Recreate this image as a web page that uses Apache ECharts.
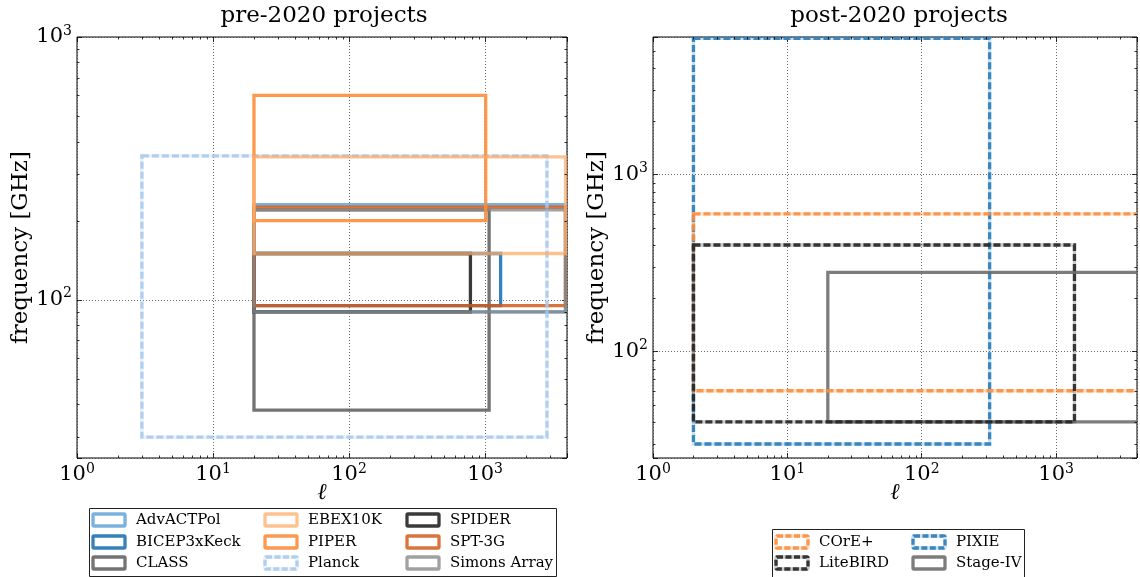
<!DOCTYPE html>
<html><head><meta charset="utf-8">
<script src="https://cdn.jsdelivr.net/npm/echarts@6/dist/echarts.min.js"></script>
<style>html,body{margin:0;padding:0;background:#fff}#c{width:1140px;height:577px}</style>
</head><body><div id="c"></div>
<script>
// ---------------- data ----------------
// pre-2020 projects: multipole range (ell) and frequency range (GHz)
const preNames    = ['AdvACTPol','BICEP3xKeck','CLASS','EBEX10K','PIPER','Planck','SPIDER','SPT-3G','Simons Array'];
const preEllMin   = [20, 20, 20, 20, 20, 3, 20, 20, 20];
const preEllMax   = [3900, 1300, 1070, 3900, 1010, 2850, 780, 3900, 3900];
const preFreqMin  = [90, 95, 38, 150, 200, 30, 90, 95, 90];
const preFreqMax  = [230, 150, 220, 350, 600, 353, 150, 225, 220];
// post-2020 projects
const postNames   = ['COrE+','LiteBIRD','PIXIE','Stage-IV'];
const postEllMin  = [2, 2, 2, 20];
const postEllMax  = [5000, 1370, 320, 5000];
const postFreqMin = [60, 40, 30, 40];
const postFreqMax = [600, 400, 5900, 280];
// axes
const xTickLabels = [1, 10, 100, 1000];
const preYRange  = [25, 1000];
const postYRange = [25, 6000];
const xRange     = [1, 4000];

// ---------------- styles ----------------
const styles = {
  'AdvACTPol':    {c:'#5a9fd4', a:0.8,  dash:false},
  'BICEP3xKeck':  {c:'#2a7ab8', a:0.95, dash:false},
  'CLASS':        {c:'#505050', a:0.8,  dash:false},
  'EBEX10K':      {c:'#fdae6b', a:0.75, dash:false},
  'PIPER':        {c:'#fd8d3c', a:0.9,  dash:false},
  'Planck':       {c:'#a6c8ec', a:0.85, dash:true},
  'SPIDER':       {c:'#252525', a:0.9,  dash:false},
  'SPT-3G':       {c:'#d55a1a', a:0.85, dash:false},
  'Simons Array': {c:'#8a8a8a', a:0.8,  dash:false},
  'COrE+':        {c:'#fd8d3c', a:0.9,  dash:true},
  'LiteBIRD':     {c:'#252525', a:0.9,  dash:true},
  'PIXIE':        {c:'#3182bd', a:0.95, dash:true},
  'Stage-IV':     {c:'#666666', a:0.85, dash:false}
};
const preDrawOrder  = ['AdvACTPol','BICEP3xKeck','CLASS','SPIDER','SPT-3G','Simons Array','Planck','PIPER','EBEX10K'];
const postDrawOrder = ['PIXIE','Stage-IV','COrE+','LiteBIRD'];
const FONT = 'DejaVu Serif';
const LW = 3.3;
const DASH = [7, 3];

function hexA(hex, a){
  const n = parseInt(hex.slice(1),16);
  return 'rgba('+((n>>16)&255)+','+((n>>8)&255)+','+(n&255)+','+a+')';
}

function boxSeries(name, d, xi, yi){
  const st = styles[name];
  return {
    type:'custom', name:name, xAxisIndex:xi, yAxisIndex:yi, clip:true, silent:true,
    data:[d], encode:{x:[0,1], y:[2,3]},
    renderItem:function(params, api){
      const p0 = api.coord([api.value(0), api.value(3)]);
      const p1 = api.coord([api.value(1), api.value(2)]);
      const shape = {x:p0[0], y:p0[1], width:p1[0]-p0[0], height:p1[1]-p0[1]};
      const children = [];
      if (st.dash) {
        children.push({type:'rect', shape:shape, style:{fill:'none', stroke:hexA(st.c, 0.25), lineWidth:LW}});
        children.push({type:'rect', shape:shape, style:{fill:'none', stroke:hexA(st.c, st.a), lineWidth:LW, lineDash:DASH}});
      } else {
        children.push({type:'rect', shape:shape, style:{fill:'none', stroke:hexA(st.c, st.a), lineWidth:LW, lineJoin:'miter'}});
      }
      return {type:'group', children:children};
    }
  };
}

function minorVals(lo, hi){
  const out = [];
  for (let e = Math.floor(Math.log10(lo)); e <= Math.ceil(Math.log10(hi)); e++){
    for (let m = 2; m <= 9; m++){ const v = m*Math.pow(10,e); if (v > lo && v < hi) out.push(v); }
  }
  return out;
}
function minorTickSeries(xi, yi, xr, yr){
  const data = minorVals(xr[0], xr[1]).map(v => [v, yr[0], 0]).concat(minorVals(yr[0], yr[1]).map(v => [xr[0], v, 1]));
  return {
    type:'custom', xAxisIndex:xi, yAxisIndex:yi, clip:false, silent:true, z:5,
    data:data, encode:{x:0, y:1},
    renderItem:function(params, api){
      const cs = params.coordSys; const p = api.coord([api.value(0), api.value(1)]);
      const L = 2.5; const s = {stroke:'#000', lineWidth:0.8};
      if (api.value(2) === 0){
        const x = Math.round(p[0])+0.5;
        return {type:'group', children:[
          {type:'line', shape:{x1:x, y1:cs.y+cs.height, x2:x, y2:cs.y+cs.height-L}, style:s},
          {type:'line', shape:{x1:x, y1:cs.y, x2:x, y2:cs.y+L}, style:s}]};
      } else {
        const y = Math.round(p[1])+0.5;
        return {type:'group', children:[
          {type:'line', shape:{x1:cs.x, y1:y, x2:cs.x+L, y2:y}, style:s},
          {type:'line', shape:{x1:cs.x+cs.width, y1:y, x2:cs.x+cs.width-L, y2:y}, style:s}]};
      }
    }
  };
}

function powLabel(v){
  const e = Math.log10(v), r = Math.round(e);
  if (Math.abs(e-r) > 1e-6) return '';
  return '{b|10}{s|'+r+'}';
}
const labelRich = {
  b:{fontFamily:FONT, fontSize:21, color:'#000', lineHeight:26},
  s:{fontFamily:FONT, fontSize:14, color:'#000', verticalAlign:'top', lineHeight:15}
};
const gridLine = {show:true, lineStyle:{color:'#444', width:0.8, type:[1,2]}};

function xAxes(gi, r){
  return [
    {type:'log', logBase:10, gridIndex:gi, min:r[0], max:r[1], position:'bottom',
     axisLine:{show:false}, axisTick:{show:true, inside:true, length:5, lineStyle:{color:'#000', width:0.8}},
     axisLabel:{formatter:powLabel, rich:labelRich, margin:4, showMinLabel:true, showMaxLabel:true, hideOverlap:false},
     splitLine:gridLine,
     name:'\u2113', nameLocation:'middle', nameGap:24, nameMoveOverlap:false,
     nameTextStyle:{fontFamily:FONT, fontSize:23, fontStyle:'italic', color:'#000'}},
    {type:'log', logBase:10, gridIndex:gi, min:r[0], max:r[1], position:'top',
     axisLine:{show:false}, axisTick:{show:true, inside:true, length:5, lineStyle:{color:'#000', width:0.8}},
     axisLabel:{show:false}, splitLine:{show:false}}
  ];
}
function yAxes(gi, r){
  return [
    {type:'log', logBase:10, gridIndex:gi, min:r[0], max:r[1], position:'left',
     axisLine:{show:false}, axisTick:{show:true, inside:true, length:5, lineStyle:{color:'#000', width:0.8}},
     axisLabel:{formatter:powLabel, rich:labelRich, margin:5, showMinLabel:true, showMaxLabel:true, hideOverlap:false},
     splitLine:gridLine,
     name:'frequency [GHz]', nameLocation:'middle', nameGap:44, nameMoveOverlap:false,
     nameTextStyle:{fontFamily:FONT, fontSize:23, color:'#000'}},
    {type:'log', logBase:10, gridIndex:gi, min:r[0], max:r[1], position:'right',
     axisLine:{show:false}, axisTick:{show:true, inside:true, length:5, lineStyle:{color:'#000', width:0.8}},
     axisLabel:{show:false}, splitLine:{show:false}}
  ];
}

const series = [];
preDrawOrder.forEach(n => { const i = preNames.indexOf(n);
  series.push(boxSeries(n, [preEllMin[i], preEllMax[i], preFreqMin[i], preFreqMax[i]], 0, 0)); });
postDrawOrder.forEach(n => { const i = postNames.indexOf(n);
  series.push(boxSeries(n, [postEllMin[i], postEllMax[i], postFreqMin[i], postFreqMax[i]], 2, 2)); });
series.push(minorTickSeries(0, 0, xRange, preYRange));
series.push(minorTickSeries(2, 2, xRange, postYRange));

// ---------------- legends (graphic) ----------------
function legendGraphic(names, box, colX, rowY, nRows){
  const els = [{type:'rect', shape:{x:box[0]+0.5, y:box[1]+0.5, width:box[2], height:box[3]},
                style:{fill:'#fff', stroke:'#222', lineWidth:1}, z:100}];
  names.forEach((n, k) => {
    const st = styles[n]; const cx = colX[Math.floor(k/nRows)]; const cy = rowY[k % nRows];
    const shape = {x:cx, y:cy-6, width:32, height:12, r:1};
    if (st.dash) els.push({type:'rect', shape:shape, style:{fill:'none', stroke:hexA(st.c,0.25), lineWidth:LW}, z:101});
    els.push({type:'rect', shape:shape, style:{fill:'none', stroke:hexA(st.c, st.a), lineWidth:LW, lineDash:st.dash?[6,2.5]:null}, z:102});
    els.push({type:'text', x:cx+43, y:cy, style:{text:n, fontFamily:FONT, fontSize:15, fill:'#000', align:'left', verticalAlign:'middle'}, z:102});
  });
  return els;
}
const graphics = [
  {type:'text', x:324, y:16, style:{text:'pre-2020 projects', fontFamily:FONT, fontSize:23, fill:'#000', align:'center', verticalAlign:'middle'}},
  {type:'text', x:899, y:16, style:{text:'post-2020 projects', fontFamily:FONT, fontSize:23, fill:'#000', align:'center', verticalAlign:'middle'}}
].concat(legendGraphic(preNames, [89, 508, 467, 68], [93, 265, 407], [520, 542, 563], 3))
 .concat(legendGraphic(postNames, [772, 529, 252, 48], [776, 913], [542, 563], 2));

const chart = echarts.init(document.getElementById('c'), null, {renderer:'canvas'});
chart.setOption({
  animation:false,
  backgroundColor:'#fff',
  grid:[
    {left:77, top:37, width:490, height:421, show:true, borderColor:'#000', borderWidth:1, backgroundColor:'transparent'},
    {left:653, top:37, width:490, height:421, show:true, borderColor:'#000', borderWidth:1, backgroundColor:'transparent'}
  ],
  xAxis: xAxes(0, xRange).concat(xAxes(1, xRange)),
  yAxis: yAxes(0, preYRange).concat(yAxes(1, postYRange)),
  series: series,
  graphic: graphics
});
</script></body></html>
